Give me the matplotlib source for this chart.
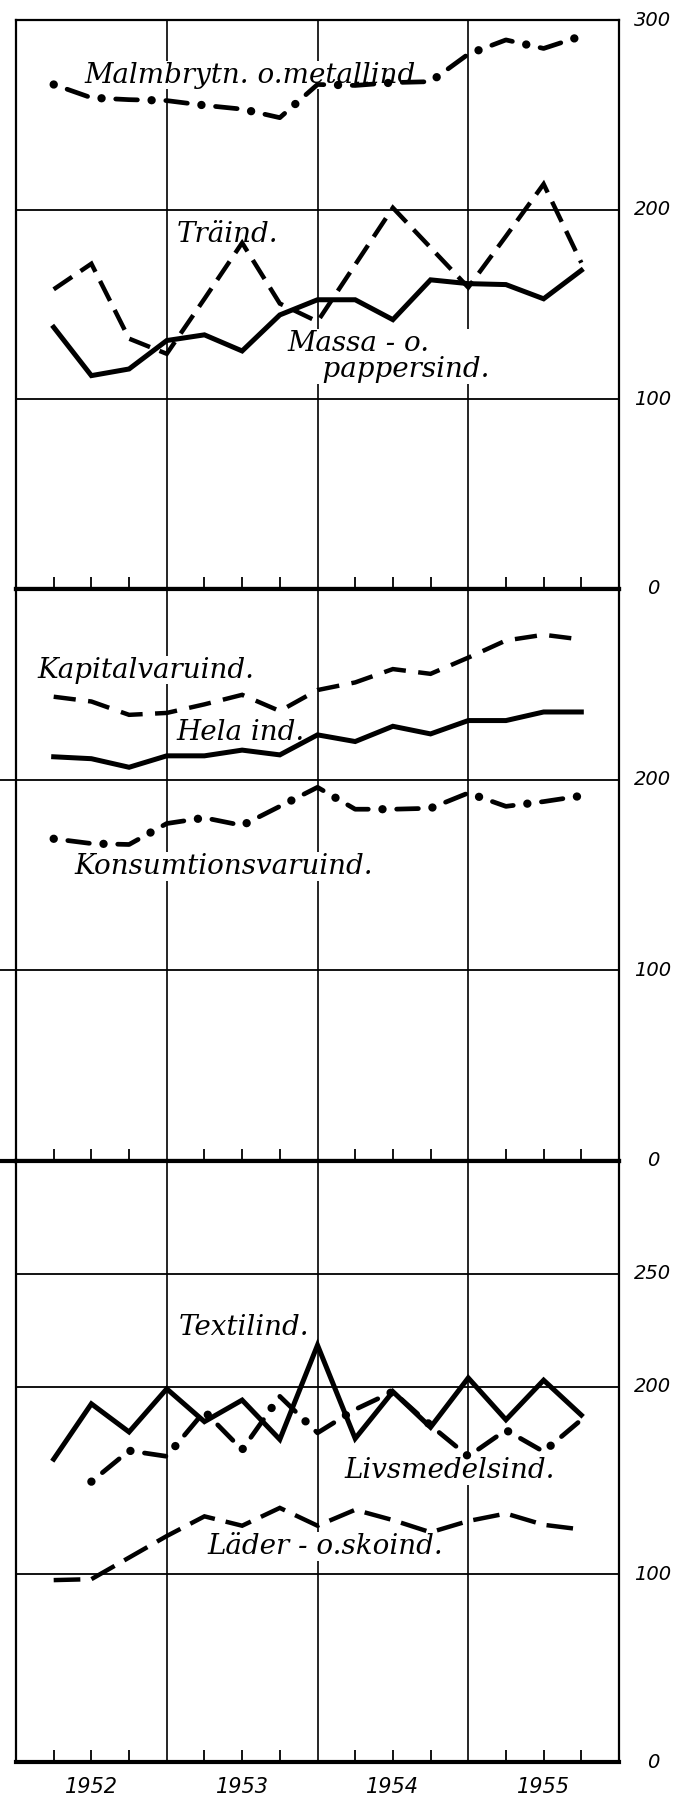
import numpy as np
import matplotlib.pyplot as plt
from matplotlib.lines import Line2D

# Kvartal, placerade vid kvartalets slut (1952 = 0 .. 1956 = 4)
kvartal = [0.25, 0.5, 0.75, 1.0, 1.25, 1.5, 1.75, 2.0,
           2.25, 2.5, 2.75, 3.0, 3.25, 3.5, 3.75]
ar = ["1952", "1953", "1954", "1955"]
ar_mitt = [0.5, 1.5, 2.5, 3.5]
kvartal_streck = [0.25, 0.75, 1.25, 1.75, 2.25, 2.75, 3.25, 3.75]

# Övre diagram
malm = [266, 259, 258, 257.5, 255, 253, 248.5, 266, 265.5, 267, 267.5, 282, 289.5, 285, 291.5]
massa = [138, 112.5, 116, 131, 134, 125.5, 144.5, 152.5, 152.5, 142, 163, 161, 160.5, 153, 168]
trä = [158, 171.5, 132, 124, 153, 182.5, 150.5, 141, 171, 201, 180, 159, 186, 213.5, 172]

# Mellersta diagram
kapital = [243.5, 241, 234, 235, 239.5, 244.5, 236, 247, 251, 258, 255.5, 264, 273, 276, 273.5]
hela = [212, 211, 206.5, 212.5, 212.5, 215.5, 213, 223.5, 220, 228, 224, 231, 231, 235.5, 235.5]
konsum = [169, 166.5, 166, 177, 180, 176, 186, 196, 184.5, 184.5, 185, 193, 186, 188.5, 191.5]

# Nedre diagram
textil = [161.5, 191, 176, 199, 181.5, 193, 172, 218.5, 172.5, 197.5, 178.5, 204, 182.5, 203, 185]
livs = [np.nan, 149.5, 166, 163, 187, 166.5, 195, 175.5, 188, 197.5, 179.5, 163, 177, 165.5, 182.5]
läder = [97, 97.5, 109, 120.5, 131, 126, 135.5, 126, 134.5, 129, 122.5, 128.5, 132.5, 126.5, 124]

etikettfont = dict(family="DejaVu Serif", style="italic", fontsize=20)
sifferfont = dict(family="DejaVu Sans", style="oblique", fontsize=14)

fig = plt.figure(figsize=(6.9, 18.03), dpi=100)


def panel(top_px, bottom_px):
    return fig.add_axes([16 / 690, (1803 - bottom_px) / 1803,
                         603 / 690, (bottom_px - top_px) / 1803])


def rama(ax, hlinjer, etiketter, forlang=False):
    ax.set_xlim(0, 4)
    ax.set_ylim(0, 300)
    for s in ax.spines.values():
        s.set_linewidth(1.6)
    ax.spines["bottom"].set_linewidth(3.0)
    ax.set_yticks([])
    ax.tick_params(axis="y", which="both", left=False, right=False)
    ax.set_xticks(ar_mitt)
    ax.set_xticks(kvartal_streck, minor=True)
    ax.tick_params(axis="x", which="both", direction="in", length=9,
                   width=1.3, labelbottom=False)
    for x in (1, 2, 3):
        ax.axvline(x, color="k", lw=1.2, zorder=1)
    xmin = -0.027 if forlang else 0
    for y in hlinjer:
        ax.axhline(y, xmin=xmin, xmax=1, color="k", lw=1.3, zorder=1,
                   clip_on=False)
    if forlang:
        ax.add_line(Line2D([xmin, 0], [0, 0], transform=ax.transAxes,
                           color="k", lw=3.0, clip_on=False))
    for y, t in etiketter:
        ax.text(1.056, y, t, transform=ax.get_yaxis_transform(),
                ha="center", va="center", **sifferfont)


def etikett(ax, x, y, t, **kw):
    ax.text(x, y, t, ha="left", va="center", zorder=2,
            bbox=dict(facecolor="white", edgecolor="none", pad=0.5),
            **etikettfont, **kw)


def heldragen(ax, y):
    ax.plot(kvartal, y, color="k", lw=3.6, solid_joinstyle="miter", zorder=3)


def streckad(ax, y, streck=4.5, lucka=2.3):
    ax.plot(kvartal, y, color="k", lw=3.2, dashes=(streck, lucka),
            dash_joinstyle="miter", zorder=3)


def streckprick(ax, y, lw=3.4, streck=4.6, lucka=3.0, prick=6.0):
    period = (0.01 + lucka + streck + lucka) * lw
    ax.plot(kvartal, y, color="k", lw=lw, dashes=(0.01, lucka, streck, lucka),
            dash_capstyle="round", zorder=3)
    ax.plot(kvartal, y, color="k", lw=prick,
            dashes=(0.01, period / prick - 0.01),
            dash_capstyle="round", zorder=3)


# --- Övre ---
ax1 = panel(20, 589)
rama(ax1, [100, 200], [(300, "300"), (200, "200"), (100, "100"), (0, "0")])
streckprick(ax1, malm)
streckad(ax1, trä, 5, 2.3)
heldragen(ax1, massa)
etikett(ax1, 0.457, 271, "Malmbrytn. o.metallind")
etikett(ax1, 1.066, 187, "Träind.")
etikett(ax1, 1.80, 122.5, "Massa - o.\n    pappersind.", linespacing=0.95)

# --- Mellersta ---
ax2 = panel(589, 1161)
rama(ax2, [100, 200], [(200, "200"), (100, "100"), (0, "0")], forlang=True)
ax2.spines["top"].set_linewidth(3.0)
streckad(ax2, kapital, 5, 2.8)
heldragen(ax2, hela)
streckprick(ax2, konsum)
etikett(ax2, 0.143, 257.5, "Kapitalvaruind.")
etikett(ax2, 1.065, 224.5, "Hela ind.")
etikett(ax2, 0.39, 154.5, "Konsumtionsvaruind.")

# --- Nedre (skalan är utdragen över 200) ---
k = 1.205


def fram(v):
    v = np.asarray(v, dtype=float)
    return np.where(v <= 200, v, 200 + (v - 200) * k)


def bak(u):
    u = np.asarray(u, dtype=float)
    return np.where(u <= 200, u, 200 + (u - 200) / k)


ax3 = panel(1161, 1762)
ax3.set_yscale("function", functions=(fram, bak))
rama(ax3, [100, 200, 250],
     [(250, "250"), (200, "200"), (100, "100"), (0, "0")])
ax3.spines["top"].set_linewidth(3.0)
streckad(ax3, läder, 6, 2.5)
streckprick(ax3, livs)
heldragen(ax3, textil)
etikett(ax3, 1.08, 226.5, "Textilind.")
etikett(ax3, 2.18, 155.5, "Livsmedelsind.")
etikett(ax3, 1.27, 115, "Läder - o.skoind.")
ax3.set_xticklabels(ar, family="DejaVu Sans", style="oblique", fontsize=15)
ax3.tick_params(axis="x", which="major", labelbottom=True, pad=11)

fig.savefig("out.png", dpi=100)
